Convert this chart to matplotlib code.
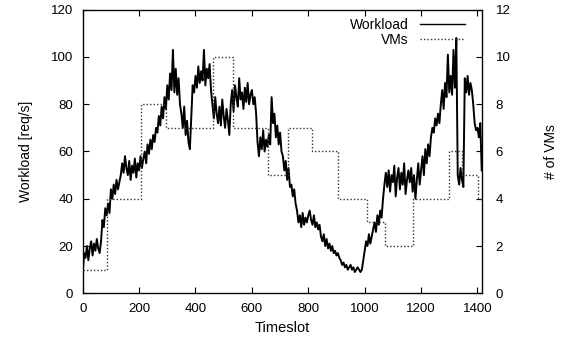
import matplotlib
matplotlib.use("Agg")
import matplotlib.pyplot as plt
from matplotlib.lines import Line2D
import numpy as np

plt.rcParams['font.family'] = ['Liberation Sans', 'DejaVu Sans']

# Workload samples every 5 timeslots
t_step = 5
workload = [
    8, 17, 15, 20, 14, 19, 22, 16, 21, 18, 23, 19, 17, 22,
    31, 28, 36, 33,
    38, 34, 44, 40, 46, 42, 48, 44, 47, 50,
    55, 51, 58, 53,
    50, 56, 48, 54, 51, 57, 49, 55, 52, 58, 53,
    57, 60, 55, 63, 59, 65, 61, 67, 64, 70,
    68, 75, 71, 79, 74, 83, 78,
    88, 82, 93, 86, 103, 85, 95, 84, 91, 80,
    76, 70, 79, 67, 73, 64, 61,
    75, 88, 85,
    92, 87, 96, 89, 94, 90, 103, 88, 95, 91, 97, 86,
    80, 74, 83, 76, 72, 79, 71, 82, 75, 70, 78, 73, 67,
    80, 86, 77, 88, 83, 79, 91, 82, 85, 78, 87, 81, 89, 80, 84,
    86, 80, 83, 76,
    64, 58, 66, 61, 69, 60, 65, 62, 67, 63,
    83, 72, 76, 66, 71, 63, 68, 60,
    58, 52, 56, 48, 53, 45,
    46, 41, 44, 38,
    35, 30, 33, 28, 34, 29, 32, 30, 33, 35,
    31, 29, 33, 28, 30, 27, 29,
    24, 22, 25, 20, 23, 19, 21, 18, 20, 17, 18, 16, 17, 15,
    14, 12, 13, 11, 12, 10, 11, 12, 10, 11, 9, 10, 11, 10, 9, 10,
    14, 18, 22, 20, 25, 21, 24,
    27, 30, 26, 33, 29, 35, 32,
    40, 46, 51,
    45, 52, 43, 50, 47, 54, 41, 49, 53, 44, 51, 46, 55, 42, 48, 52,
    47, 53, 43, 50, 40, 48, 55, 46,
    52, 58, 50, 61, 55, 63, 58,
    66, 70, 68, 74, 71, 76, 72,
    80, 86, 78, 89, 83, 101, 85, 92, 84, 103, 87,
    108,
    50, 46, 53, 48, 45,
    91, 85, 92, 84, 89, 86,
    80, 72, 69,
    70, 66, 72, 52,
]
timeslots = [i * t_step for i in range(len(workload))]

# VM allocation steps
vm_edges = [0, 85, 205, 295, 461, 534, 658, 729, 813, 904, 1008, 1073, 1172, 1299, 1346, 1401, 1415]
vm_counts = [1, 4, 8, 7, 10, 7, 5, 7, 6, 4, 3, 2, 4, 6, 5, 4]

x_ticks = [0, 200, 400, 600, 800, 1000, 1200, 1400]
y_ticks = [0, 20, 40, 60, 80, 100, 120]
y2_ticks = [0, 2, 4, 6, 8, 10, 12]

fig = plt.figure(figsize=(5.63, 3.37), dpi=100)
ax = fig.add_axes([0.1469, 0.1297, 0.8556 - 0.1469, 0.9712 - 0.1297])
ax2 = ax.twinx()

ax.plot(timeslots, workload, color='black', lw=1.4)
vm_y = vm_counts + [vm_counts[-1]]
vm_style = (0, (1, 1.5))
ax2.step(vm_edges, vm_y, where='post', color='#333333', lw=1.0, linestyle=vm_style)

ax.set_xlim(0, 1415)
ax.set_ylim(0, 120)
ax2.set_ylim(0, 12)
ax.set_xticks(x_ticks)
ax.set_yticks(y_ticks)
ax2.set_yticks(y2_ticks)

fs = 9.5
ax.tick_params(axis='x', direction='in', length=4, width=0.8, top=True, pad=7, labelsize=fs)
ax.tick_params(axis='y', direction='in', length=4, width=0.8, pad=7, labelsize=fs)
ax2.tick_params(axis='y', direction='in', length=4, width=0.8, pad=10, labelsize=fs)

lfs = 10.5
ax.set_xlabel('Timeslot', fontsize=lfs, labelpad=4)
ax.set_ylabel('Workload [req/s]', fontsize=10, labelpad=13)
ax2.set_ylabel('# of VMs', fontsize=10, labelpad=24)

for s in ax.spines.values():
    s.set_linewidth(0.9)

h_work = Line2D([], [], color='black', lw=1.0)
h_vm = Line2D([], [], color='#333333', lw=1.0, linestyle=vm_style)
leg = ax.legend(handles=[h_work, h_vm], labels=['Workload', 'VMs'], loc='upper right',
                frameon=False, markerfirst=False,
                fontsize=10, handlelength=3.2, handletextpad=0.8, labelspacing=0.05,
                borderaxespad=0.2, bbox_to_anchor=(0.978, 1.0))

fig.savefig('out.png', dpi=100)
